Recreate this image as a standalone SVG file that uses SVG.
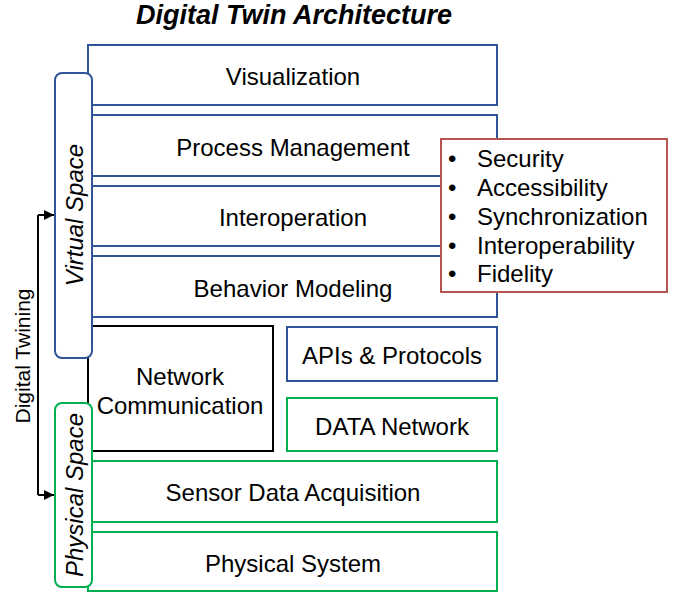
<svg xmlns="http://www.w3.org/2000/svg" width="678" height="593" viewBox="0 0 678 593">
<defs>
<style>
.t{font-family:"Liberation Sans",Arial,sans-serif;font-size:24px;fill:#000;text-anchor:middle;dominant-baseline:central}
.b{fill:#fff;stroke:#2F5597;stroke-width:2}
.g{fill:#fff;stroke:#00B050;stroke-width:2}
.k{fill:#fff;stroke:#000;stroke-width:2}
.li{font-family:"Liberation Sans",Arial,sans-serif;font-size:24px;fill:#000;dominant-baseline:central}
</style>
<marker id="ah" viewBox="0 0 10 10" refX="10" refY="5" markerWidth="5" markerHeight="5" orient="auto"><path d="M0,0L10,5L0,10z" fill="#000"/></marker>
</defs>
<text x="294" y="15" class="t" style="font-weight:bold;font-style:italic;font-size:27px">Digital Twin Architecture</text>
<g id="visualization"><rect x="88" y="45" width="409" height="60" class="b"/><text x="293" y="76" class="t">Visualization</text></g>
<g id="process-management"><rect x="88" y="115" width="409" height="61" class="b"/><text x="293" y="147" class="t">Process Management</text></g>
<g id="interoperation"><rect x="88" y="186" width="409" height="60" class="b"/><text x="293" y="217" class="t">Interoperation</text></g>
<g id="behavior-modeling"><rect x="88" y="256" width="409" height="61" class="b"/><text x="293" y="288" class="t">Behavior Modeling</text></g>
<g id="network-communication"><rect x="88" y="326" width="185" height="125" class="k"/><text x="180" y="376" class="t">Network</text><text x="180" y="405" class="t">Communication</text></g>
<g id="apis-protocols"><rect x="287" y="327" width="210" height="54" class="b"/><text x="392" y="355" class="t">APIs &amp; Protocols</text></g>
<g id="data-network"><rect x="287" y="398" width="210" height="53" class="g"/><text x="392" y="426" class="t">DATA Network</text></g>
<g id="sensor-data-acquisition"><rect x="88" y="461" width="409" height="61" class="g"/><text x="293" y="492" class="t">Sensor Data Acquisition</text></g>
<g id="physical-system"><rect x="88" y="532" width="409" height="59" class="g"/><text x="293" y="563" class="t">Physical System</text></g>
<g id="virtual-space"><rect x="55" y="73" width="37" height="285" rx="7" class="b"/><text class="t" transform="translate(74,215) rotate(-90)" style="font-style:italic">Virtual Space</text></g>
<g id="physical-space"><rect x="55" y="403" width="37" height="184" rx="7" class="g"/><text class="t" transform="translate(74,495) rotate(-90)" style="font-style:italic">Physical Space</text></g>
<g id="requirements"><rect x="441" y="139" width="226" height="153" fill="#fff" stroke="#B85450" stroke-width="2"/>
<g class="li"><text x="448" y="158">•</text><text x="477" y="158">Security</text>
<text x="448" y="187">•</text><text x="477" y="187">Accessibility</text>
<text x="448" y="216">•</text><text x="477" y="216">Synchronization</text>
<text x="448" y="245">•</text><text x="477" y="245">Interoperability</text>
<text x="448" y="273">•</text><text x="477" y="273">Fidelity</text></g></g>
<g id="digital-twining"><text class="t" transform="translate(22,356) rotate(-90)" style="font-size:21px">Digital Twining</text></g>
<g id="connectors" fill="none" stroke="#000" stroke-width="2">
<path d="M38,215V495"/>
<path d="M38,215H54" marker-end="url(#ah)"/>
<path d="M38,495H54" marker-end="url(#ah)"/>
</g>
</svg>
